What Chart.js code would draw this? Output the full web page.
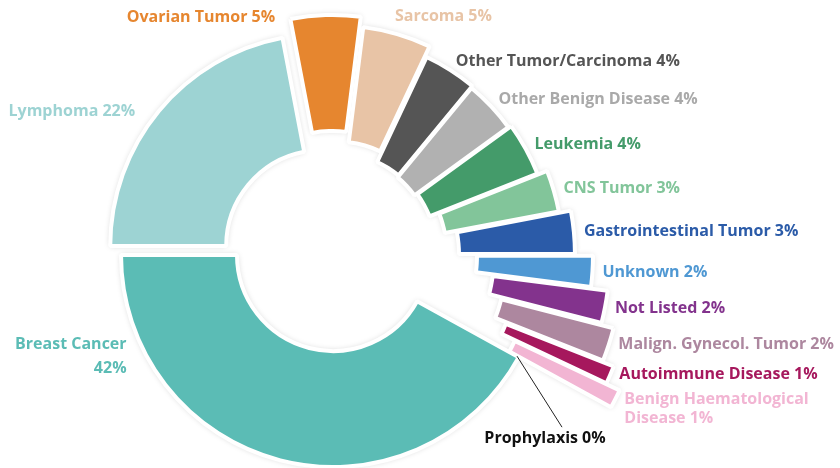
<!DOCTYPE html>
<html lang="en">
<head>
<meta charset="UTF-8">
<title>Diagnoses</title>
<script src="https://cdn.jsdelivr.net/npm/chart.js"></script>
<style>
  html, body { margin: 0; padding: 0; background: #fff; }
  canvas { display: block; }
</style>
</head>
<body>
<canvas id="chart" width="840" height="468"></canvas>
<script>
// categories, clockwise from 9 o'clock
const categories = [
  'Lymphoma', 'Ovarian Tumor', 'Sarcoma', 'Other Tumor/Carcinoma', 'Other Benign Disease',
  'Leukemia', 'CNS Tumor', 'Gastrointestinal Tumor', 'Unknown', 'Not Listed',
  'Malign. Gynecol. Tumor', 'Autoimmune Disease', 'Benign Haematological Disease',
  'Prophylaxis', 'Breast Cancer'
];
const shares = [22, 5, 5, 4, 4, 4, 3, 3, 2, 2, 2, 1, 1, 0, 42];

const sliceColors = [
  '#9dd3d3', '#e6862f', '#e8c4a6', '#555555', '#b1b1b1',
  '#449b6a', '#82c59a', '#2b5ba8', '#4f98d3', '#83338d',
  '#ad879f', '#a6185d', '#f2b5d3', '#111111', '#5bbcb5'
];
const labelColors = [
  '#9dd3d3', '#e6862f', '#e8c4a6', '#555555', '#a9a9a9',
  '#449b6a', '#82c59a', '#2b5ba8', '#4f98d3', '#83338d',
  '#ad879f', '#a6185d', '#f2b5d3', '#111111', '#5bbcb5'
];
// how far each slice is pulled out, px
const explodePx = [14, 28, 18, 7, 5, 8, 18, 30, 48, 65, 78, 90, 105, 0, 0];

const BORDER = 4;
const OUTER = 210 + BORDER / 2;
const INNER = 98 - BORDER / 2;

// hand placement for labels that don't sit at the slice middle
const labelTweaks = {
  'Lymphoma': { dx: -16, dy: 7 },
  'Ovarian Tumor': { dx: -50, dy: 12 },
  'Sarcoma': { dx: -5, dy: -8 },
  'Malign. Gynecol. Tumor': { dy: -3 },
  'Autoimmune Disease': { dy: -4 },
  'Benign Haematological Disease': { split: 2, dy: 5 },
  'Breast Cancer': { at: 0.82, dx: -9, split: 2, gap: 24 },
  'Prophylaxis': { leader: [45, 71], dx: 28, dy: 82, align: 'center' }
};

// pull slices outwards: wide slices mostly shift, thin ones mostly grow
const explode = {
  id: 'explode',
  afterDatasetUpdate(chart, args) {
    const arcs = chart.getDatasetMeta(args.index).data;
    arcs.forEach((arc, i) => {
      const e = explodePx[i] || 0;
      if (!e) return;
      const mid = arc.startAngle + arc.circumference / 2;
      const fix = 1 - Math.sin(Math.min(Math.PI, arc.circumference));
      const grow = e * fix * fix;
      const shift = e - grow;
      arc.x += Math.cos(mid) * shift;
      arc.y += Math.sin(mid) * shift;
      arc.innerRadius += grow;
      arc.outerRadius += grow;
    });
  }
};

// soft grey halo under the slices
const sliceShadow = {
  id: 'sliceShadow',
  beforeDatasetsDraw(chart) {
    const ctx = chart.ctx;
    ctx.save();
    ctx.shadowColor = 'rgba(0,0,0,0.22)';
    ctx.shadowBlur = 6;
    chart.getDatasetMeta(0).data.forEach(arc => {
      const opts = arc.options;
      arc.options = Object.assign({}, opts, { borderWidth: 0 });
      arc.draw(ctx);
      arc.options = opts;
    });
    ctx.restore();
  }
};

const sliceLabels = {
  id: 'sliceLabels',
  afterDatasetsDraw(chart) {
    const ctx = chart.ctx;
    const arcs = chart.getDatasetMeta(0).data;
    ctx.save();
    ctx.font = 'bold 16px "Open Sans"';
    ctx.textBaseline = 'middle';
    arcs.forEach((arc, i) => {
      const tw = labelTweaks[categories[i]] || {};
      const ang = arc.startAngle + arc.circumference * (tw.at ?? 0.5);
      const edge = arc.outerRadius - BORDER / 2;
      const cos = Math.cos(ang), sin = Math.sin(ang);
      let x, y;
      if (tw.leader) {
        const ex = arc.x + cos * edge, ey = arc.y + sin * edge;
        ctx.strokeStyle = '#222';
        ctx.lineWidth = 1;
        ctx.beginPath();
        ctx.moveTo(ex, ey);
        ctx.lineTo(ex + tw.leader[0], ey + tw.leader[1]);
        ctx.stroke();
        x = ex + tw.dx;
        y = ey + tw.dy;
      } else {
        x = arc.x + cos * (edge + 12) + (tw.dx || 0);
        y = arc.y + sin * (edge + 12) + (tw.dy || 0);
      }
      ctx.textAlign = tw.align || (cos >= 0 ? 'left' : 'right');
      ctx.fillStyle = labelColors[i];
      const text = categories[i] + ' ' + shares[i] + '%';
      if (tw.split) {
        const words = text.split(' ');
        const gap = tw.gap || 19;
        ctx.fillText(words.slice(0, tw.split).join(' '), x, y - gap / 2);
        ctx.fillText(words.slice(tw.split).join(' '), x, y + gap / 2);
      } else {
        ctx.fillText(text, x, y);
      }
    });
    ctx.restore();
  }
};

new Chart(document.getElementById('chart'), {
  type: 'doughnut',
  data: {
    labels: categories,
    datasets: [{
      data: shares,
      backgroundColor: sliceColors,
      borderColor: '#ffffff',
      borderWidth: BORDER,
      hoverOffset: 0
    }]
  },
  options: {
    responsive: false,
    animation: false,
    events: [],
    rotation: 270,
    radius: OUTER,
    cutout: (INNER / OUTER * 100) + '%',
    layout: { padding: { left: 0, right: 174, top: 42, bottom: 0 } },
    plugins: {
      legend: { display: false },
      tooltip: { enabled: false }
    }
  },
  plugins: [explode, sliceShadow, sliceLabels]
});
</script>
</body>
</html>
